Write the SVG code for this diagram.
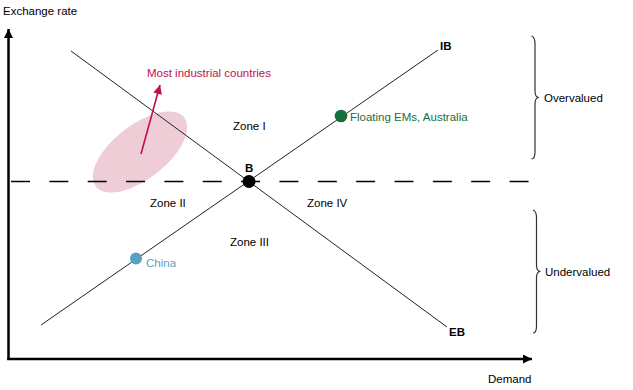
<svg xmlns="http://www.w3.org/2000/svg" width="633" height="390" viewBox="0 0 633 390">
<style>
text{font-family:"Liberation Sans",Arial,sans-serif;font-size:11.5px;fill:#000}
.b{font-weight:bold}
.ln{stroke:#222;stroke-width:1;fill:none}
.ax{stroke:#000;stroke-width:2.5;fill:none}
.br{stroke:#333;stroke-width:1.2;fill:none}
</style>
<defs>
<marker id="ah" viewBox="0 0 10 10" refX="10" refY="5" markerWidth="10" markerHeight="9" markerUnits="userSpaceOnUse" orient="auto"><path d="M0,0L10,5L0,10z" fill="#000"/></marker>
<marker id="rh" viewBox="0 0 10 10" refX="10" refY="5" markerWidth="10" markerHeight="9" markerUnits="userSpaceOnUse" orient="auto"><path d="M0,0L10,5L0,10z" fill="#c0104f"/></marker>
</defs>
<ellipse cx="140" cy="152" rx="56" ry="27" transform="rotate(-38 140 152)" fill="#efcdd6"/>
<g id="axes">
<line class="ax" x1="8.5" y1="360" x2="8.5" y2="29" marker-end="url(#ah)"/>
<line class="ax" x1="7.3" y1="359" x2="532" y2="359" marker-end="url(#ah)"/>
<text x="3" y="15">Exchange rate</text>
<text x="488" y="383">Demand</text>
</g>
<g id="connectors">
<line x1="11" y1="181.5" x2="530" y2="181.5" stroke="#000" stroke-width="1.3" stroke-dasharray="19 19.35"/>
<line class="ln" x1="71" y1="51" x2="447" y2="327"/>
<line class="ln" x1="41" y1="325" x2="438" y2="50"/>
<line x1="141" y1="154" x2="160" y2="85" stroke="#c0104f" stroke-width="1.6" marker-end="url(#rh)"/>
</g>
<g id="node-B"><circle cx="249" cy="181.5" r="6.5" fill="#000"/><text class="b" x="245" y="172">B</text></g>
<g id="node-IB"><text class="b" x="440" y="50">IB</text></g>
<g id="node-EB"><text class="b" x="449" y="336">EB</text></g>
<g id="node-floating"><circle cx="341" cy="116" r="6.3" fill="#17703f"/><text x="350" y="121" style="fill:#17703f">Floating EMs, Australia</text></g>
<g id="node-china"><circle cx="136" cy="258.5" r="6" fill="#5a9fc4"/><text x="146" y="267" style="fill:#5a9fc4">China</text></g>
<g id="node-industrial"><text x="147" y="77" style="fill:#c0104f">Most industrial countries</text></g>
<g id="zones">
<text x="233" y="130">Zone I</text>
<text x="150" y="207">Zone II</text>
<text x="230" y="246">Zone III</text>
<text x="307" y="207">Zone IV</text>
</g>
<g id="node-overvalued">
<path class="br" d="M531.5,36 Q535,37 535,44 L535,91 Q535,97.5 539,97.5 Q535,97.5 535,104 L535,152 Q535,159 531.5,159"/>
<text x="544" y="102">Overvalued</text>
</g>
<g id="node-undervalued">
<path class="br" d="M533,210 Q536.5,211 536.5,218 L536.5,265 Q536.5,271.5 540.5,271.5 Q536.5,271.5 536.5,278 L536.5,326 Q536.5,333 533,333"/>
<text x="545" y="276">Undervalued</text>
</g>
</svg>
